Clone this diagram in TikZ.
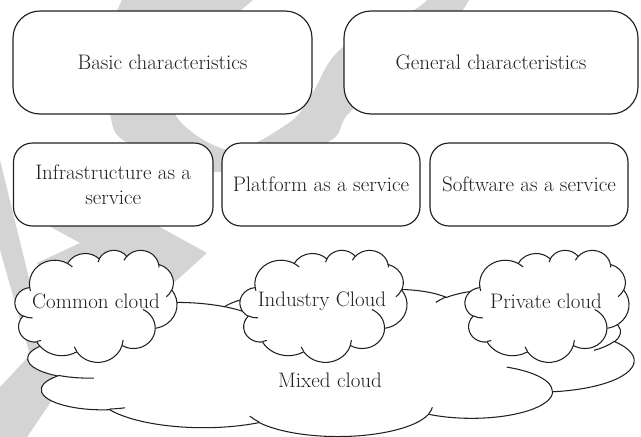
\documentclass[tikz,border=0pt]{standalone}
\usepackage{fontspec}
\definecolor{ink}{HTML}{231F20}
\definecolor{mistgray}{HTML}{D4D4D4}

% Office-style cloud outline in a 100 x 100 box (y pointing down);
% #1,#2 = top-left corner, #3,#4 = horizontal / vertical scale (size/100)
\newcommand\officecloud[4]{%
  \begin{scope}[shift={(#1,#2)}, xscale=#3, yscale=#4]
    \filldraw[cloudline, fill=white]
      (9.028,33.264)
      arc[start angle=-187.746, end angle=-59.64,  x radius=15.632, y radius=21.273]
      arc[start angle=-152.02,  end angle=-45.497, x radius=12.345, y radius=16.822]
      arc[start angle=-153.49,  end angle=-37.32,  x radius=10.104, y radius=13.762]
      arc[start angle=-139.70,  end angle=-10.21,  x radius=11.243, y radius=15.266]
      arc[start angle=-74.77,   end angle=23.21,   x radius=12.345, y radius=16.836]
      arc[start angle=-37.52,   end angle=81.86,   x radius=15.683, y radius=21.343]
      arc[start angle=0.46,     end angle=121.94,  x radius=13.391, y radius=18.211]
      arc[start angle=16.85,    end angle=146.25,  x radius=15.630, y radius=21.331]
      arc[start angle=59.02,    end angle=150.17,  x radius=17.870, y radius=24.405]
      arc[start angle=-276.69,  end angle=-136.90, x radius=10.093, y radius=13.699]
      arc[start angle=-239.62,  end angle=-95.89,  x radius=10.058, y radius=13.762]
      -- cycle;
    % inner puff strokes
    \draw[cloudline]
      (10.863,60.595) arc[start angle=85.54,   end angle=120.38,  x radius=10.058, y radius=13.762]
      (16.037,80.785) arc[start angle=68.26,   end angle=83.31,   x radius=10.093, y radius=13.699]
      (38.144,90.486) arc[start angle=146.25,  end angle=158.47,  x radius=15.630, y radius=21.331]
      (66.729,80.442) arc[start angle=4.74,    end angle=16.85,   x radius=15.630, y radius=21.331]
      (79.002,53.134) arc[start angle=-63.99,  end angle=0.46,    x radius=13.391, y radius=18.211]
      (96.755,35.542) arc[start angle=23.21,   end angle=49.67,   x radius=12.345, y radius=16.836]
      (88.713,12.560) arc[start angle=-10.21,  end angle=0.82,    x radius=11.243, y radius=15.266]
      (67.310,9.148)  arc[start angle=-156.28, end angle=-139.70, x radius=11.243, y radius=15.266]
      (51.252,10.926) arc[start angle=-167.73, end angle=-151.91, x radius=10.104, y radius=13.762]
      (32.407,12.019) arc[start angle=-59.64,  end angle=-45.74,  x radius=15.632, y radius=21.273]
      (9.553,36.549)  arc[start angle=163.19,  end angle=172.25,  x radius=15.632, y radius=21.273];
  \end{scope}}

\begin{document}
\begin{tikzpicture}[x=1pt, y=1pt, yscale=-1,
  cloudline/.style={draw=ink, line width=1.05pt},
  txt/.style={font=\rmfamily\addfontfeatures{FakeBold=0.35}\fontsize{21}{25}\selectfont,
              text=ink, align=center},
  label/.style={txt, inner sep=0pt},
  bigbox/.style={txt, draw=ink, line width=1.15pt, fill=white, rounded corners=27pt,
                 minimum height=103pt},
  servicebox/.style={txt, draw=ink, line width=1.15pt, fill=white, rounded corners=19pt,
                 minimum height=83pt}]
  \useasboundingbox (0,0) rectangle (641,437);
  \fill[white] (0,0) rectangle (641,437);

  % light background emblem
  \fill[mistgray, even odd rule]
    plot[smooth cycle, tension=0.55] coordinates {(122,0) (106,60) (110,114) (128,143)
      (220,172) (326,143) (350,112) (420,50) (469,0) (470,-60) (350,-115) (180,-80)}
    plot[smooth cycle, tension=0.55] coordinates {(253,0) (188,60) (175,114) (230,150)
      (290,122) (313,92) (342,48) (427,0) (420,-50) (340,-70)};
  \fill[mistgray] (0,160) -- (57,393) -- (27,437) -- (0,437) -- (0,387) -- (30,355)
    -- (0,250) -- cycle;
  \fill[mistgray] (20,150) -- (207,253) -- (177,280) -- (130,325) -- (60,320) -- (37,263)
    -- (80,243) -- (20,210) -- cycle;

  % characteristics
  \node[bigbox, minimum width=299pt] (basic)   at (162.5,62.5) {Basic characteristics};
  \node[bigbox, minimum width=294pt] (general) at (491,62.5)   {General characteristics};

  % service models
  \node[servicebox, minimum width=199.5pt] (iaas) at (113.25,184.5) {Infrastructure as a\\service};
  \node[servicebox, minimum width=198pt]   (paas) at (321,184.5)    {Platform as a service};
  \node[servicebox, minimum width=198pt]   (saas) at (529,184.5)    {Software as a service};

  % deployment models
  \officecloud{28}{289}{6.06}{1.47}
  \officecloud{15}{250}{1.62}{1.12}
  \officecloud{240}{250}{1.67}{1.12}
  \officecloud{465}{250}{1.64}{1.12}

  \node[label] (common)   at (96,301)  {Common cloud};
  \node[label] (industry) at (322,301) {Industry Cloud};
  \node[label] (private)  at (546,301) {Private cloud};
  \node[label] (mixed)    at (330,380) {Mixed cloud};
\end{tikzpicture}
\end{document}
